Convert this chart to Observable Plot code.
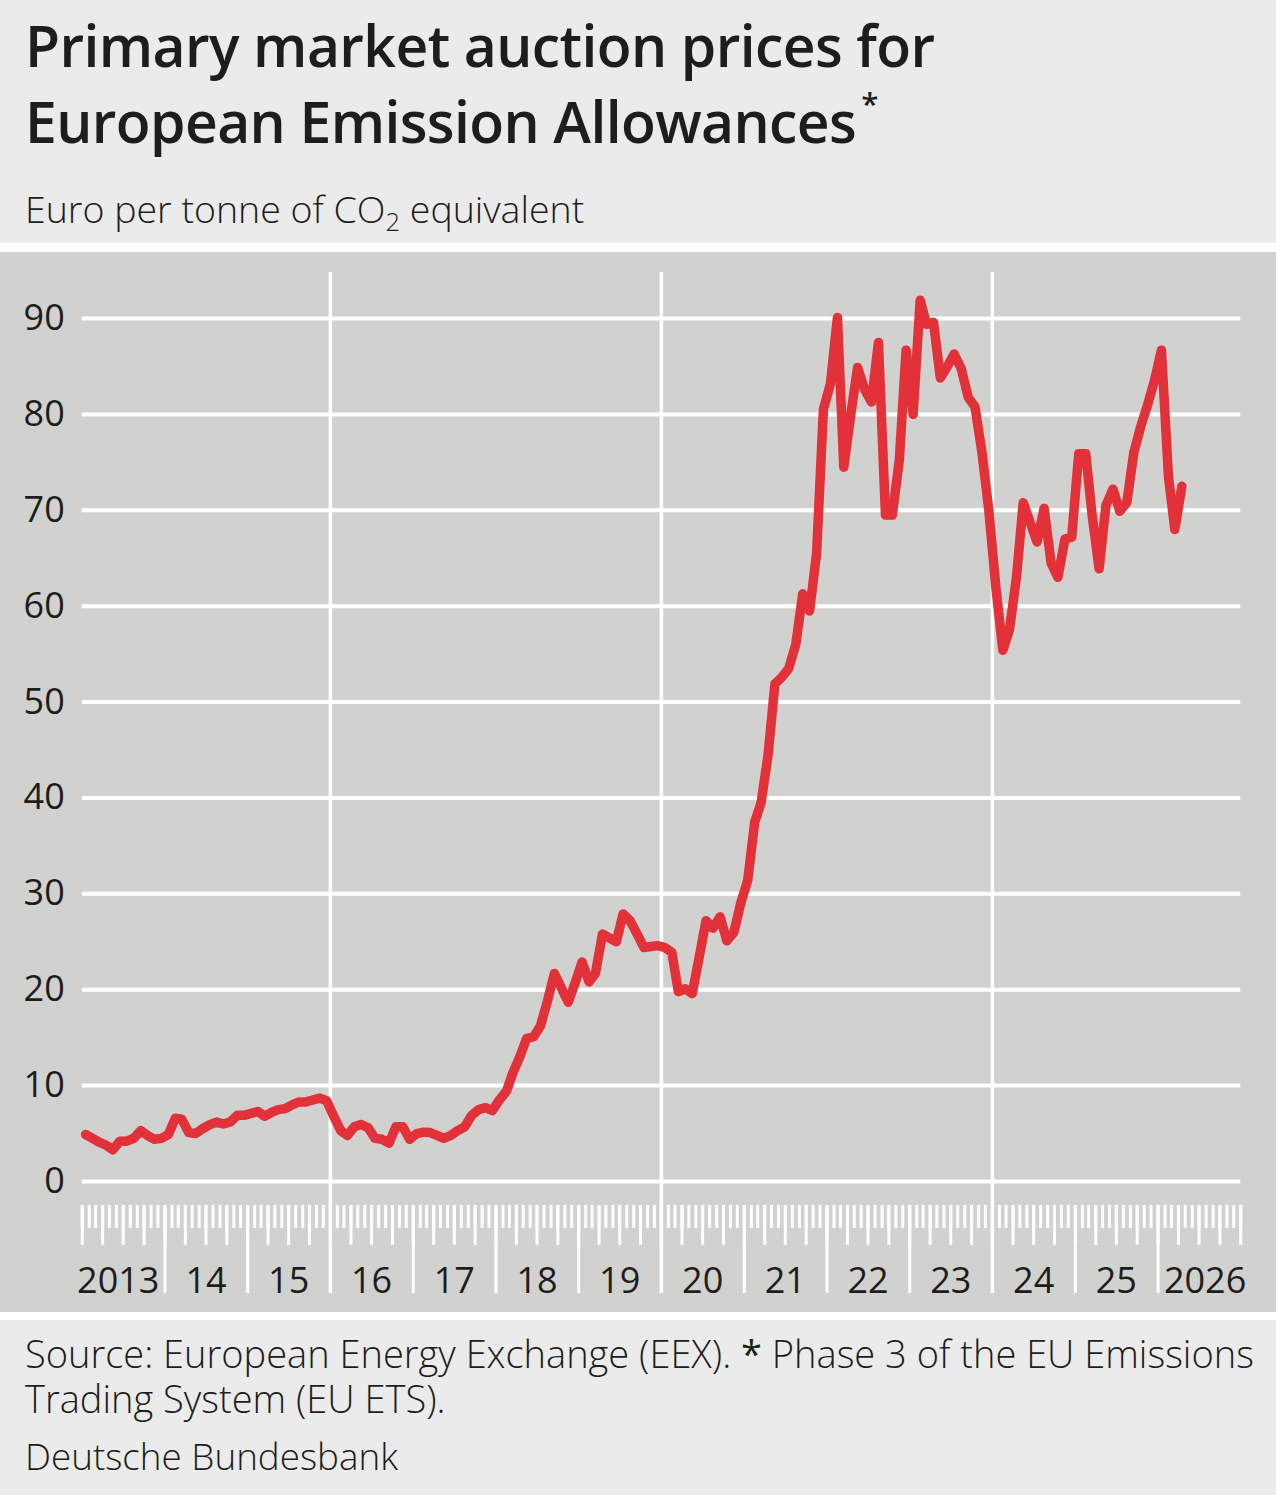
<!DOCTYPE html>
<html><head><meta charset="utf-8">
<script src="https://cdn.jsdelivr.net/npm/d3@7"></script>
<script src="https://cdn.jsdelivr.net/npm/@observablehq/plot@0.6"></script>
<style>
html,body{margin:0;padding:0;background:#fff;}
body{font-family:"Open Sans",sans-serif;color:#1d1d1b;}
#wrap{width:1276px;}
#header{position:relative;height:243px;background:#ebebeb;}
#gap1{height:9px;background:#fff;}
#chart{height:1060px;background:#d1d1d0;}
#chart svg{display:block;}
#gap2{height:8px;background:#fff;}
#footer{position:relative;height:175px;background:#ebebeb;}
.t{position:absolute;left:25px;white-space:nowrap;line-height:1;}
.title{font-size:57px;font-weight:570;letter-spacing:-0.6px;line-height:76px;}
.sub{font-size:37.5px;font-weight:300;}
.foot{font-size:38px;font-weight:300;}
</style>
</head><body>
<div id="wrap">
  <div id="header">
    <div class="t title" style="top:7px">Primary market auction prices for<br>European Emission Allowances<span style="font-size:0.55em;position:relative;top:-0.9em;left:5px;line-height:0">*</span></div>
    <div class="t sub" style="top:190px">Euro per tonne of CO<span style="font-size:0.68em;position:relative;top:0.3em;line-height:0">2</span> equivalent</div>
  </div>
  <div id="gap1"></div>
  <div id="chart"></div>
  <div id="gap2"></div>
  <div id="footer">
    <div class="t foot" style="top:11px;line-height:45px">Source: European Energy Exchange (EEX). <b>*</b> Phase 3 of the EU Emissions<br>Trading System (EU ETS).</div>
    <div class="t foot" style="top:118px;font-size:36.8px">Deutsche Bundesbank</div>
  </div>
</div>
<script>
// Monthly average auction prices, starting January 2013 (EUR per tonne CO2 eq.)
const startYear = 2013;
const prices = [
  4.9, 4.5, 4.1, 3.8, 3.3, 4.2, 4.2, 4.5, 5.3, 4.8, 4.4, 4.5,        // 2013
  4.9, 6.6, 6.5, 5.1, 5.0, 5.5, 5.9, 6.2, 6.0, 6.2, 6.9, 6.9,        // 2014
  7.1, 7.3, 6.8, 7.2, 7.5, 7.6, 8.0, 8.3, 8.3, 8.5, 8.7, 8.4,        // 2015
  6.8, 5.3, 4.8, 5.7, 5.95, 5.6, 4.5, 4.4, 4.0, 5.7, 5.7, 4.4,       // 2016
  5.0, 5.15, 5.1, 4.8, 4.5, 4.8, 5.3, 5.7, 6.9, 7.5, 7.7, 7.4,       // 2017
  8.5, 9.4, 11.3, 13.0, 14.9, 15.1, 16.2, 18.8, 21.7, 20.2, 18.7, 20.7, // 2018
  22.9, 20.8, 21.7, 25.8, 25.4, 25.0, 27.9, 27.2, 25.8, 24.4, 24.5, 24.6, // 2019
  24.4, 23.9, 19.8, 20.1, 19.6, 23.4, 27.2, 26.4, 27.6, 25.1, 26.0, 29.0, // 2020
  31.4, 37.5, 39.5, 44.5, 51.9, 52.6, 53.5, 56.0, 61.3, 59.5, 65.5, 80.5, // 2021
  83.2, 90.1, 74.5, 80.0, 84.9, 82.6, 81.3, 87.5, 69.5, 69.5, 75.2, 86.7, // 2022
  80.0, 91.9, 89.4, 89.6, 83.8, 85.0, 86.3, 84.8, 81.8, 80.8, 76.0, 70.0, // 2023
  62.0, 55.4, 57.5, 63.0, 70.8, 68.7, 66.7, 70.2, 64.5, 63.0, 67.0, 67.2, // 2024
  75.9, 75.9, 69.5, 63.9, 70.5, 72.2, 69.9, 70.8, 76.0, 78.7, 81.0, 83.5, // 2025
  86.7, 73.5, 68.0, 72.5                                                   // 2026
];
const yTicks = [0, 10, 20, 30, 40, 50, 60, 70, 80, 90];
const yearLabels = ["2013", "14", "15", "16", "17", "18", "19", "20", "21", "22", "23", "24", "25", "2026"];
const gridYears = [2016, 2020, 2024];

const data = prices.map((v, i) => ({date: new Date(Date.UTC(startYear, i, 16)), value: v}));
const x0 = new Date(Date.UTC(startYear, 0, 1));
const x1 = new Date(Date.UTC(startYear + yearLabels.length, 0, 1));
const months = d3.utcMonth.range(x0, d3.utcDay.offset(x1, 1));
const quarters = months.filter(d => d.getUTCMonth() % 3 === 0);
const yearStarts = months.filter(d => d.getUTCMonth() === 0 && d > x0 && d < x1 && !gridYears.includes(d.getUTCFullYear()));
const gridDates = gridYears.map(y => new Date(Date.UTC(y, 0, 1)));
const labelData = yearLabels.map((t, i) => ({t, date: new Date(Date.UTC(startYear + i, 6, 1)), i}));
const n = labelData.length;

const white = "#ffffff";
const ink = "#1d1d1b";
const chart = Plot.plot({
  width: 1276,
  height: 1060,
  marginLeft: 81.75,
  marginRight: 35.75,
  marginTop: 66,
  marginBottom: 131,
  x: {type: "utc", domain: [x0, x1], axis: null},
  y: {domain: [0, 90], axis: null},
  style: {background: "#d1d1d0", fontFamily: "'Open Sans', sans-serif", overflow: "visible"},
  marks: [
    Plot.ruleY(yTicks, {y: d => d, x1: () => x0, x2: () => x1, stroke: white, strokeWidth: 4}),
    Plot.ruleX(gridDates, {x: d => d, y1: 94.8, y2: -11.68, stroke: white, strokeWidth: 3.5}),
    Plot.ruleX(months, {x: d => d, y1: -2.5, y2: -4.9, stroke: white, strokeWidth: 3}),
    Plot.ruleX(quarters, {x: d => d, y1: -2.5, y2: -6.67, stroke: white, strokeWidth: 3}),
    Plot.ruleX(yearStarts, {x: d => d, y1: -2.5, y2: -11.68, stroke: white, strokeWidth: 3}),
    Plot.text(yTicks, {x: () => x0, y: d => d, text: d => String(d), textAnchor: "end", dx: -17.5, fontSize: 36, fill: ink}),
    Plot.line(data, {x: "date", y: "value", stroke: "#e3313a", strokeWidth: 9.5, strokeLinejoin: "round"}),
    Plot.text(labelData.filter(d => d.i > 0 && d.i < n - 1), {x: "date", y: -10.46, text: "t", fontSize: 36, fill: ink}),
    Plot.text(labelData.filter(d => d.i === 0), {x: "date", y: -10.46, text: "t", dx: -5, fontSize: 36, fill: ink}),
    Plot.text(labelData.filter(d => d.i === n - 1), {x: "date", y: -10.46, text: "t", dx: 6, fontSize: 36, fill: ink})
  ]
});
document.getElementById("chart").appendChild(chart);
</script>
</body></html>
